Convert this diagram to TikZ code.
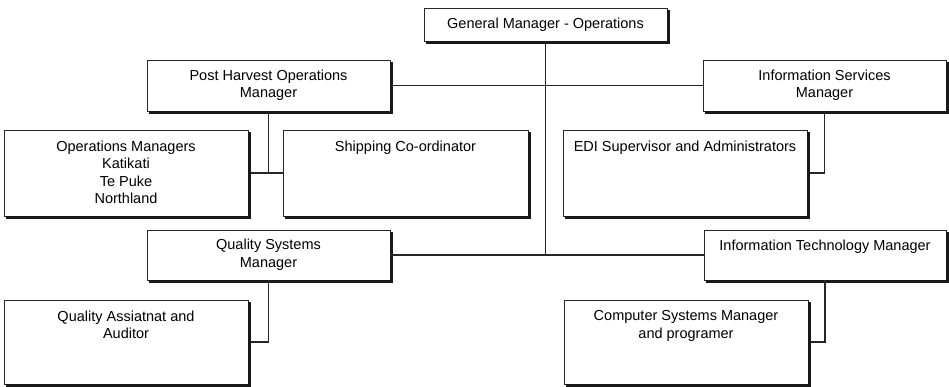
\documentclass[tikz,border=0pt]{standalone}
\usepackage{fontspec}
\setmainfont{Liberation Sans}
\begin{document}
\begin{tikzpicture}[x=1pt,y=-1pt,
  box/.style={draw=black!85, line width=0.9pt, fill=white, rectangle, inner sep=0pt, outer sep=0pt,
    anchor=north west, align=center, font=\fontsize{14.5}{17.5}\selectfont},
  txt/.style={inner sep=0pt, align=center, anchor=north, font=\fontsize{14.5}{17.5}\selectfont},
  conn/.style={draw=black!85, line width=1.5pt},
  shadowline/.style={draw=black!90, line width=3pt}]
\useasboundingbox (0,0) rectangle (949,387);
% boxes
\node[box, minimum width=243pt, minimum height=33pt] (gm) at (424,8) {General Manager - Operations};
\node[box, minimum width=243pt, minimum height=51pt] (ph) at (147,60) {Post Harvest Operations\\Manager};
\node[box, minimum width=243pt, minimum height=51pt] (is) at (703,60) {Information Services\\Manager};
\node[box, minimum width=244pt, minimum height=86pt] (om) at (4,130) {};
\node[box, minimum width=245pt, minimum height=86pt] (sc) at (283,130) {};
\node[box, minimum width=244pt, minimum height=86pt] (edi) at (563,130) {};
\node[box, minimum width=243pt, minimum height=50pt] (qs) at (147,230) {Quality Systems\\Manager};
\node[box, minimum width=242pt, minimum height=50pt] (itm) at (704,230) {};
\node[box, minimum width=244pt, minimum height=84pt] (qa) at (4,300) {};
\node[box, minimum width=244pt, minimum height=84pt] (csm) at (564,300) {};
% shadows (thick right and bottom edges)
\foreach \b in {gm,ph,is,om,sc,edi,qs,itm,qa,csm}{
  \draw[shadowline] ([xshift=1.2pt,yshift=-2pt]\b.north east) -- ([xshift=1.2pt,yshift=-1.2pt]\b.south east) -- ([xshift=2pt,yshift=-1.2pt]\b.south west);
}
% top-aligned texts
\node[txt] (omt) at ([yshift=-10.5pt]om.north) {Operations Managers\\Katikati\\Te Puke\\Northland};
\node[txt] (sct) at ([yshift=-10.5pt]sc.north) {Shipping Co-ordinator};
\node[txt] (edit) at ([yshift=-10.5pt]edi.north) {EDI Supervisor and Administrators};
\node[txt] (itmt) at ([yshift=-10pt]itm.north) {Information Technology Manager};
\node[txt] (qat) at ([yshift=-10.5pt]qa.north) {Quality Assiatnat and\\Auditor};
\node[txt] (csmt) at ([yshift=-10.5pt]csm.north) {Computer Systems Manager\\and programer};
% connectors
\draw[conn] (ph.east) -- (is.west);
\draw[conn] (qs.east) -- (itm.west);
\draw[conn] (gm.south) -- (gm.south |- qs.east);
\draw[conn] (ph.south) -- (ph.south |- om.east);
\draw[conn] ([xshift=2.5pt]om.east) -- (sc.west);
\draw[conn] (is.south) |- ([xshift=2.5pt]edi.east);
\draw[conn] (qs.south) |- ([xshift=2.5pt]qa.east);
\draw[conn] (itm.south) |- ([xshift=2.5pt]csm.east);
\end{tikzpicture}
\end{document}
